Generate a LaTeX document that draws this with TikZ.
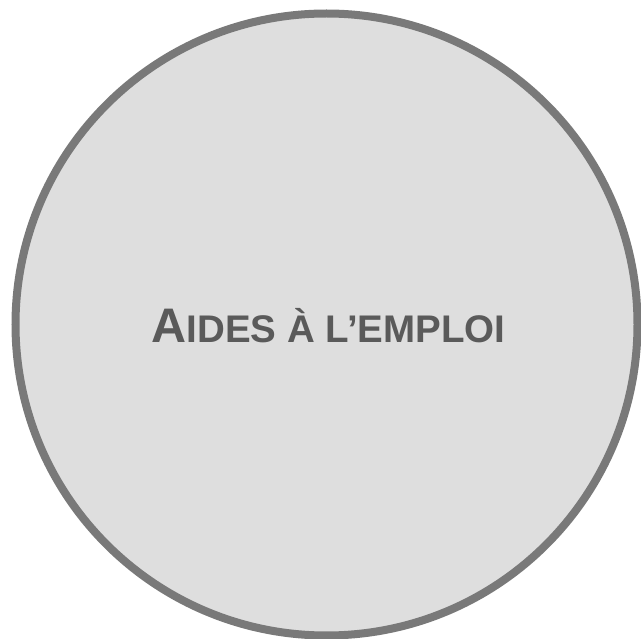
\documentclass[tikz,border=0pt]{standalone}
\usepackage{fontspec}
\setmainfont{Liberation Sans}
\definecolor{circfill}{HTML}{DEDEDE}
\definecolor{circline}{HTML}{797979}
\definecolor{txt}{HTML}{5A5A5A}
\tikzset{
  bubble/.style={circle, draw=circline, fill=circfill, line width=8pt, minimum size=622pt, inner sep=0pt},
  label/.style={text=txt, font=\bfseries, inner sep=0pt, anchor=base}
}
\newcommand{\mybigcap}[1]{{\fontsize{48.5}{48.5}\selectfont #1}}
\newcommand{\mysmallcap}[1]{{\fontsize{38.5}{38.5}\selectfont #1}}
\begin{document}
\begin{tikzpicture}[x=1pt,y=-1pt]
\useasboundingbox (0,0) rectangle (641,639);
\node[bubble] (c) at (326.5,324.5) {};
\node[label] (t) at (328.5,343) {\mybigcap{A}\mysmallcap{IDES À L’EMPLOI}};
\end{tikzpicture}
\end{document}
